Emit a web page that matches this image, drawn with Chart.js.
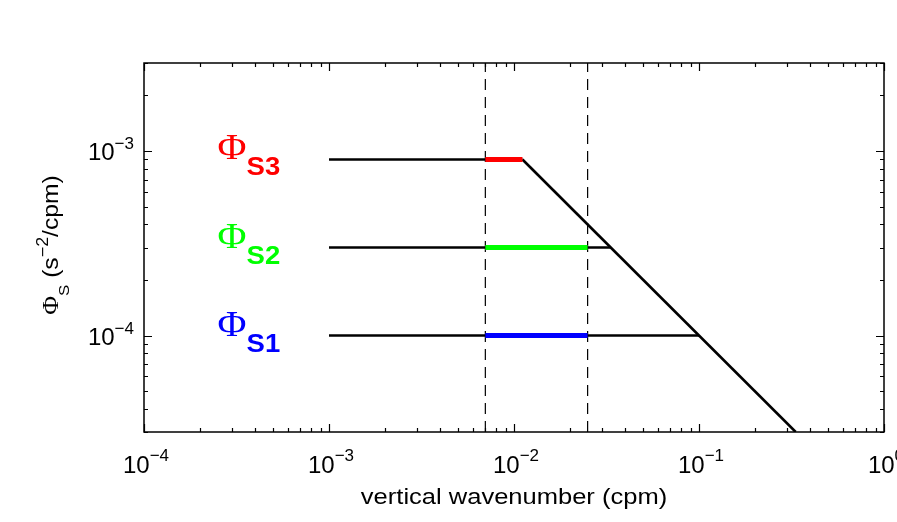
<!DOCTYPE html>
<html>
<head>
<meta charset="utf-8">
<script src="https://cdn.jsdelivr.net/npm/chart.js@4.4.0/dist/chart.umd.min.js"></script>
<style>
  html, body { margin: 0; padding: 0; background: #fff; }
</style>
</head>
<body>
<canvas id="myChart" width="897" height="522"></canvas>
<script>
// axis ranges and tick labels
const xMin = 1e-4, xMax = 1;
const yMin = 3e-5, yMax = 3e-3;
const xTicks = [1e-4, 1e-3, 1e-2, 1e-1, 1];
const xTickExp = ['\u22124', '\u22123', '\u22122', '\u22121', '0'];
const yTicks = [1e-4, 1e-3];
const yTickExp = ['\u22124', '\u22123'];

// three levels Phi_S1..S3
const levelNames = ['S1', 'S2', 'S3'];
const levelPhi = [1e-4, 3e-4, 9e-4];
const levelStart = [1e-3, 1e-3, 1e-3];
const levelEnd = [0.1, 1 / 30, 1 / 90];

// coloured band between the dashed wavenumbers
const bandStart = [0.007, 0.007, 0.007];
const bandEnd = [0.025, 0.025, 1 / 90];

// k^-1 roll-off
const slopeK = [1 / 90, 1 / 3];
const slopePhi = [9e-4, 3e-5];

// dashed vertical lines
const dashK = [0.007, 0.025];

const levelColors = ['#0000ff', '#00ff00', '#ff0000'];
const labelK = 2.5e-4;

const SANS = '"Liberation Sans", Arial, Helvetica, sans-serif';
const SERIF = '"Liberation Serif", "Times New Roman", serif';

function logTicks(min, max) {
    const out = [];
    for (let d = Math.floor(Math.log10(min)); d <= Math.ceil(Math.log10(max)); d++) {
        for (let m = 1; m <= 9; m++) {
            const v = m * Math.pow(10, d);
            if (v >= min * 0.999 && v <= max * 1.001) out.push({ v: v, major: m === 1 });
        }
    }
    return out;
}

function drawParts(ctx, parts, x, y, align, sx) {
    let w = 0;
    parts.forEach(p => {
        ctx.font = p.font;
        p.w = ctx.measureText(p.text).width * sx;
        w += p.w;
    });
    let cx = align === 'center' ? x - w / 2 : (align === 'right' ? x - w : x);
    parts.forEach(p => {
        ctx.save();
        ctx.font = p.font;
        ctx.fillStyle = p.color || '#000';
        ctx.textAlign = 'left';
        ctx.textBaseline = 'alphabetic';
        ctx.translate(cx, y + (p.dy || 0));
        ctx.scale(sx, 1);
        ctx.fillText(p.text, 0, 0);
        ctx.restore();
        cx += p.w;
    });
}

const decor = {
    id: 'decor',
    afterDatasetsDraw(chart) {
        const ctx = chart.ctx;
        const a = chart.chartArea;
        const xs = chart.scales.x, ys = chart.scales.y;
        ctx.save();
        ctx.strokeStyle = '#000';
        ctx.lineWidth = 1.5;
        ctx.strokeRect(a.left, a.top, a.right - a.left, a.bottom - a.top);

        ctx.lineWidth = 1.2;
        ctx.beginPath();
        logTicks(xMin, xMax).forEach(t => {
            const px = Math.round(xs.getPixelForValue(t.v)) + 0.5;
            const len = t.major ? 8 : 4;
            ctx.moveTo(px, a.bottom); ctx.lineTo(px, a.bottom - len);
            ctx.moveTo(px, a.top); ctx.lineTo(px, a.top + len);
        });
        logTicks(yMin, yMax).forEach(t => {
            const py = Math.round(ys.getPixelForValue(t.v)) + 0.5;
            const len = t.major ? 8 : 4;
            ctx.moveTo(a.left, py); ctx.lineTo(a.left + len, py);
            ctx.moveTo(a.right, py); ctx.lineTo(a.right - len, py);
        });
        ctx.stroke();
        ctx.restore();
    },
    afterDraw(chart) {
        const ctx = chart.ctx;
        const a = chart.chartArea;
        const xs = chart.scales.x, ys = chart.scales.y;
        ctx.save();

        // tick labels
        xTicks.forEach((v, i) => {
            drawParts(ctx, [
                { text: '10', font: '24px ' + SANS },
                { text: xTickExp[i], font: '17px ' + SANS, dy: -12 }
            ], xs.getPixelForValue(v) + 2, a.bottom + 41, 'center', 1);
        });
        yTicks.forEach((v, i) => {
            drawParts(ctx, [
                { text: '10', font: '24px ' + SANS },
                { text: yTickExp[i], font: '17px ' + SANS, dy: -11 }
            ], a.left - 10, ys.getPixelForValue(v) + 9, 'right', 1);
        });

        // axis titles
        drawParts(ctx, [{ text: 'vertical wavenumber (cpm)', font: '22px ' + SANS }],
            (a.left + a.right) / 2, 504, 'center', 1.16);

        ctx.save();
        ctx.translate(58, 245);
        ctx.rotate(-Math.PI / 2);
        drawParts(ctx, [
            { text: '\u03A6', font: '23px ' + SERIF },
            { text: 'S', font: '15px ' + SANS, dy: 11 },
            { text: ' (s', font: '22px ' + SANS },
            { text: '\u22122', font: '16px ' + SANS, dy: -10 },
            { text: '/cpm)', font: '22px ' + SANS }
        ], 0, 0, 'center', 1.12);
        ctx.restore();

        // level labels
        levelNames.forEach((name, i) => {
            const px = xs.getPixelForValue(labelK);
            const py = ys.getPixelForValue(levelPhi[i]);
            drawParts(ctx, [
                { text: '\u03A6', font: '36px ' + SERIF, color: levelColors[i] },
                { text: name, font: 'bold 25px ' + SANS, color: levelColors[i], dy: 16 }
            ], px, py, 'left', 1.1);
        });
        ctx.restore();
    }
};

// lower order is drawn on top
const datasets = [];
levelPhi.forEach((phi, i) => {
    datasets.push({
        data: [{ x: bandStart[i], y: phi }, { x: bandEnd[i], y: phi }],
        borderColor: levelColors[i], borderWidth: 5, order: 0
    });
});
levelPhi.forEach((phi, i) => {
    datasets.push({
        data: [{ x: levelStart[i], y: phi }, { x: levelEnd[i], y: phi }],
        borderColor: '#000', borderWidth: 2.6, order: 1
    });
});
datasets.push({
    data: slopeK.map((k, i) => ({ x: k, y: slopePhi[i] })),
    borderColor: '#000', borderWidth: 2.6, order: 1
});
dashK.forEach(k => {
    datasets.push({
        data: [{ x: k, y: yMin }, { x: k, y: yMax }],
        borderColor: '#000', borderWidth: 1.2, borderDash: [11, 7], order: 2
    });
});
datasets.forEach(d => {
    d.showLine = true;
    d.pointRadius = 0;
    d.fill = false;
});

const ctx = document.getElementById('myChart').getContext('2d');
const myChart = new Chart(ctx, {
    type: 'scatter',
    data: { datasets: datasets },
    options: {
        responsive: false,
        animation: false,
        devicePixelRatio: 1,
        layout: { padding: { left: 144, right: 13, top: 63, bottom: 90 } },
        scales: {
            x: { type: 'logarithmic', min: xMin, max: xMax, display: false },
            y: { type: 'logarithmic', min: yMin, max: yMax, display: false }
        },
        plugins: {
            legend: { display: false },
            tooltip: { enabled: false }
        }
    },
    plugins: [decor]
});
</script>
</body>
</html>
